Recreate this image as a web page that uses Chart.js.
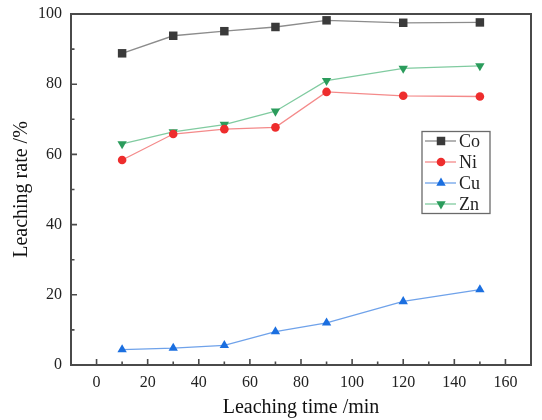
<!DOCTYPE html>
<html>
<head>
<meta charset="utf-8">
<script src="https://cdn.jsdelivr.net/npm/chart.js@4"></script>
<style>
html,body{margin:0;padding:0;background:#fff;}
#wrap{width:542px;height:420px;position:relative;}
</style>
</head>
<body>
<div id="wrap"><canvas id="c" width="542" height="420"></canvas></div>
<script>
const times = [10, 30, 50, 70, 90, 120, 150];
const coValues = [88.8, 93.8, 95.1, 96.3, 98.2, 97.5, 97.6];
const niValues = [58.4, 65.8, 67.2, 67.7, 77.8, 76.7, 76.5];
const cuValues = [4.4, 4.8, 5.6, 9.5, 12.0, 18.1, 21.5];
const znValues = [63.0, 66.4, 68.5, 72.3, 81.0, 84.5, 85.2];
const seriesNames = ['Co', 'Ni', 'Cu', 'Zn'];
const xTickLabels = [0, 20, 40, 60, 80, 100, 120, 140, 160];
const xMinorTicks = [10, 30, 50, 70, 90, 110, 130, 150];
const yTickLabels = [0, 20, 40, 60, 80, 100];
const yMinorTicks = [10, 30, 50, 70, 90];

const FONT = "'Liberation Serif', 'DejaVu Serif', serif";

function pts(vals){ return times.map((t,i)=>({x:t, y:vals[i]})); }

const styles = [
  {line:'#8c8c8c', mark:'#3a3a3a', pointStyle:'rect', r:6, rot:0},
  {line:'#f48a8a', mark:'#ee2d2d', pointStyle:'circle', r:4.3, rot:0},
  {line:'#6fa2ea', mark:'#1b6fe0', pointStyle:'triangle', r:5.4, rot:0},
  {line:'#80cba0', mark:'#2b9c5c', pointStyle:'triangle', r:5.4, rot:180}
];
const allVals = [coValues, niValues, cuValues, znValues];

const datasets = allVals.map((v,i)=>({
  label: seriesNames[i],
  data: pts(v),
  borderColor: styles[i].line,
  borderWidth: 1.3,
  backgroundColor: styles[i].mark,
  pointBackgroundColor: styles[i].mark,
  pointBorderColor: styles[i].mark,
  pointBorderWidth: 0,
  pointStyle: styles[i].pointStyle,
  pointRadius: styles[i].r,
  pointRotation: styles[i].rot,
  pointHoverRadius: styles[i].r,
  tension: 0,
  fill: false
}));

const framePlugin = {
  id: 'frame',
  afterDraw(chart){
    const {ctx, chartArea:a, scales:{x, y}} = chart;
    ctx.save();
    ctx.strokeStyle = '#4a4a4a';
    ctx.lineWidth = 1.6;
    ctx.beginPath();
    xTickLabels.forEach(v=>{ const px = x.getPixelForValue(v); ctx.moveTo(px, a.bottom); ctx.lineTo(px, a.bottom-6); });
    xMinorTicks.forEach(v=>{ const px = x.getPixelForValue(v); ctx.moveTo(px, a.bottom); ctx.lineTo(px, a.bottom-3.5); });
    yTickLabels.forEach(v=>{ const py = y.getPixelForValue(v); ctx.moveTo(a.left, py); ctx.lineTo(a.left+6, py); });
    yMinorTicks.forEach(v=>{ const py = y.getPixelForValue(v); ctx.moveTo(a.left, py); ctx.lineTo(a.left+3.5, py); });
    ctx.stroke();
    ctx.lineWidth = 2;
    ctx.strokeRect(a.left, a.top, a.right-a.left, a.bottom-a.top);

    const bx = 422, by = 131.5, bw = 68, bh = 82;
    ctx.fillStyle = '#fff';
    ctx.fillRect(bx, by, bw, bh);
    ctx.strokeStyle = '#6a6a6a';
    ctx.lineWidth = 1.3;
    ctx.strokeRect(bx, by, bw, bh);
    chart.data.datasets.forEach((ds, i)=>{
      const ry = 141 + i*21;
      ctx.strokeStyle = ds.borderColor;
      ctx.lineWidth = 1.3;
      ctx.beginPath(); ctx.moveTo(425, ry); ctx.lineTo(456, ry); ctx.stroke();
      ctx.fillStyle = ds.pointBackgroundColor;
      Chart.helpers.drawPoint(ctx, {pointStyle: ds.pointStyle, radius: ds.pointRadius, rotation: ds.pointRotation, borderWidth: 0}, 441, ry);
      ctx.fillStyle = '#222';
      ctx.font = "18px " + FONT;
      ctx.textBaseline = 'middle';
      ctx.textAlign = 'left';
      ctx.fillText(ds.label, 459, ry+1);
    });
    ctx.restore();
  }
};

new Chart(document.getElementById('c'), {
  type: 'line',
  data: { datasets },
  options: {
    responsive: false,
    animation: false,
    devicePixelRatio: 1,
    layout: { padding: { left: 0, right: 11, top: 14, bottom: 0 } },
    plugins: { legend: { display: false }, tooltip: { enabled: false } },
    scales: {
      x: {
        type: 'linear', min: -10, max: 170,
        afterBuildTicks(s){ s.ticks = xTickLabels.map(v=>({value:v})); },
        afterFit(s){ s.height = 55; s.paddingLeft = 0; s.paddingRight = 0; },
        grid: { display: false, drawTicks: false },
        border: { display: false },
        ticks: { font: { family: FONT, size: 16 }, color: '#222', padding: 8, maxRotation: 0, autoSkip: false },
        title: { display: true, text: 'Leaching time /min', font: { family: FONT, size: 20 }, color: '#111', padding: { top: 0, bottom: 0 } }
      },
      y: {
        type: 'linear', min: 0, max: 100,
        afterBuildTicks(s){ s.ticks = yTickLabels.map(v=>({value:v})); },
        afterFit(s){ s.width = 71; s.paddingTop = 0; s.paddingBottom = 0; },
        grid: { display: false, drawTicks: false },
        border: { display: false },
        ticks: { font: { family: FONT, size: 16 }, color: '#222', padding: 9, autoSkip: false },
        title: { display: true, text: 'Leaching rate /%', font: { family: FONT, size: 20 }, color: '#111', padding: { top: 10, bottom: 0 } }
      }
    }
  },
  plugins: [framePlugin]
});
</script>
</body>
</html>
